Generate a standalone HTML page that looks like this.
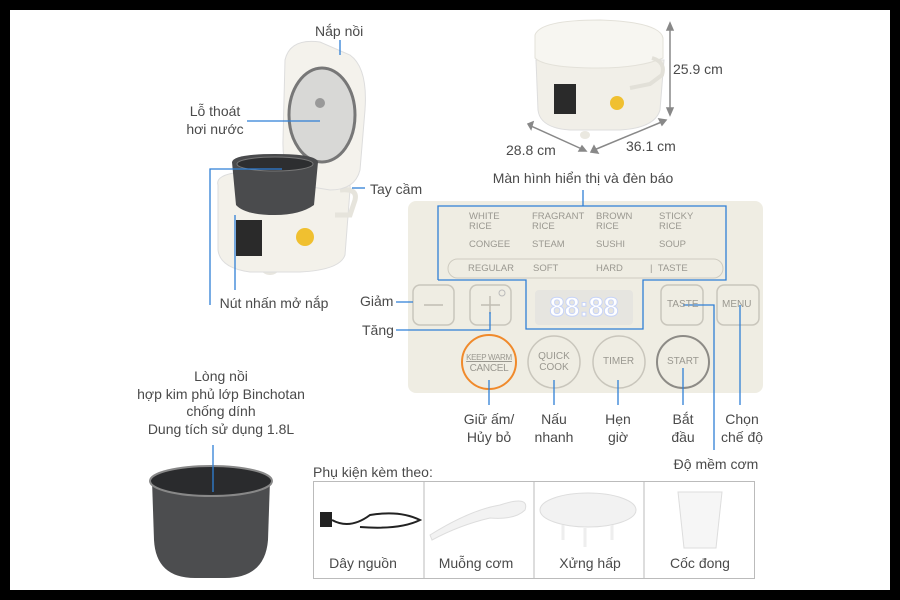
<!DOCTYPE html>
<html><head><meta charset="utf-8"><style>
body{margin:0;width:900px;height:600px;background:#000;overflow:hidden;font-family:"Liberation Sans",sans-serif}
#w{position:absolute;left:10px;top:10px;width:880px;height:580px;background:#fff}
.t{position:absolute;color:#4a4a4a;font-size:14px;white-space:nowrap;line-height:18px}
.c{text-align:center;transform:translateX(-50%)}
.m{position:absolute;color:#9a9890;font-size:9.5px;line-height:10px;white-space:nowrap}
</style></head><body>
<div id="w"></div>
<svg width="900" height="600" style="position:absolute;left:0;top:0">
<!-- left cooker -->
<ellipse cx="270" cy="270" rx="8" ry="5" fill="#e8e6df"/>
<path d="M218 185 Q215 175 240 172 L330 172 Q352 175 350 190 L345 255 Q340 270 300 272 L250 272 Q220 268 218 250 Z" fill="#f3f1ea" stroke="#ddd"/>
<path d="M340 190 Q358 188 355 200 L350 215 L335 215" fill="none" stroke="#e6e4dc" stroke-width="5"/>
<path d="M285 60 Q290 38 320 42 L350 55 Q368 68 365 110 L360 170 Q355 190 330 190 L300 185 Q282 175 283 140 Z" fill="#f4f2ec" stroke="#ddd"/>
<ellipse cx="322" cy="115" rx="33" ry="47" fill="#d8d8d6" stroke="#777" stroke-width="3"/>
<circle cx="320" cy="103" r="5" fill="#999"/>
<path d="M232 162 Q234 154 275 154 Q316 154 318 162 L314 205 Q300 215 275 215 Q245 215 236 205 Z" fill="#4a4b4d"/>
<ellipse cx="275" cy="164" rx="38" ry="7" fill="#2d2e30" stroke="#777"/>
<rect x="236" y="220" width="26" height="36" fill="#2a2a2a"/>
<ellipse cx="305" cy="237" rx="9" ry="9" fill="#f0c030"/>
<!-- top right cooker -->
<path d="M536 60 L664 60 L660 110 Q655 128 620 130 L570 130 Q540 128 538 110 Z" fill="#f1efe8" stroke="#ddd"/>
<path d="M535 35 Q540 20 600 20 Q660 22 663 38 L663 58 Q640 68 598 68 Q545 68 535 58 Z" fill="#f7f6f1" stroke="#e3e1d9"/>
<path d="M652 58 Q666 62 662 75 L650 84 L630 88" fill="none" stroke="#e2e0d8" stroke-width="4"/>
<rect x="554" y="84" width="22" height="30" fill="#2a2a2a"/>
<ellipse cx="617" cy="103" rx="7" ry="7" fill="#f0c030"/>
<ellipse cx="585" cy="135" rx="5" ry="4" fill="#eae8e0"/>
<g stroke="#888" stroke-width="1.5" fill="#888">
<line x1="670" y1="26" x2="670" y2="112"/><path d="M667 30 L670 23 L673 30Z"/><path d="M667 108 L670 115 L673 108Z"/>
<line x1="531" y1="126" x2="584" y2="150"/><path d="M533 122 L528 124 L531 129Z"/><path d="M579 151 L586 151 L582 146Z"/>
<line x1="594" y1="150" x2="664" y2="121"/><path d="M594 146 L591 152 L598 153Z"/><path d="M659 119 L666 120 L662 125Z"/>
</g>
<!-- pot -->
<path d="M152 480 L270 480 L268 540 Q265 578 225 578 L195 578 Q156 578 154 540 Z" fill="#4c4d4f"/>
<ellipse cx="211" cy="481" rx="61" ry="15" fill="#2a2b2d" stroke="#888" stroke-width="2"/>
<!-- panel -->
<rect x="408" y="201" width="355" height="192" rx="8" fill="#efede3"/>
<rect x="448" y="259" width="275" height="19" rx="9.5" fill="none" stroke="#cfccc1"/>
<g fill="none" stroke="#c9c6bc" stroke-width="1.5">
<rect x="413" y="285" width="41" height="40" rx="7"/><rect x="470" y="285" width="41" height="40" rx="7"/>
<rect x="661" y="285" width="42" height="40" rx="7"/><rect x="717" y="285" width="42" height="40" rx="7"/>
<circle cx="554" cy="362" r="26"/><circle cx="619" cy="362" r="26"/>
</g>
<circle cx="683" cy="362" r="26" fill="none" stroke="#8d8b86" stroke-width="2"/>
<circle cx="489" cy="362" r="27" fill="none" stroke="#f08a2c" stroke-width="2"/>
<line x1="424" y1="305" x2="443" y2="305" stroke="#c0bdb3" stroke-width="1.5"/>
<line x1="481" y1="305" x2="500" y2="305" stroke="#c0bdb3" stroke-width="1.5"/><line x1="490" y1="296" x2="490" y2="314" stroke="#c0bdb3" stroke-width="1.5"/>
<circle cx="502" cy="293" r="3" fill="none" stroke="#bbb"/>
<rect x="535" y="290" width="98" height="35" rx="4" fill="#e6e5e0"/>
<text x="584" y="316" text-anchor="middle" font-family="Liberation Sans" font-size="27" font-weight="bold" fill="#fff" stroke="#c8d4f8" stroke-width="1">88:88</text>
<!-- callout lines -->
<g fill="none" stroke="#2f7fd6" stroke-width="1.3">
<polyline points="438,280 438,206 726,206 726,280 643,280 643,329 526,329 526,280 438,280"/>
<line x1="583" y1="190" x2="583" y2="206"/>
<line x1="396" y1="302" x2="413" y2="302"/>
<polyline points="396,330 490,330 490,312"/>
<line x1="489" y1="380" x2="489" y2="405"/><line x1="554" y1="380" x2="554" y2="405"/>
<line x1="618" y1="380" x2="618" y2="405"/><line x1="683" y1="368" x2="683" y2="405"/>
<polyline points="683,305 714,305 714,450"/><line x1="740" y1="305" x2="740" y2="405"/>
<line x1="340" y1="40" x2="340" y2="55"/><line x1="247" y1="121" x2="320" y2="121"/>
<line x1="352" y1="188" x2="365" y2="188"/><polyline points="210,305 210,169 282,169"/>
<line x1="235" y1="215" x2="235" y2="290"/><line x1="213" y1="445" x2="213" y2="492"/>
</g>
<!-- accessory table -->
<g fill="none" stroke="#bbb"><rect x="313.5" y="481.5" width="441" height="97"/>
<line x1="424" y1="481" x2="424" y2="578"/><line x1="534" y1="481" x2="534" y2="578"/><line x1="644" y1="481" x2="644" y2="578"/></g>
<path d="M320 512 L332 512 L332 527 L320 527Z" fill="#222"/>
<path d="M332 520 Q350 530 370 515 Q400 510 420 520 Q400 530 360 527" fill="none" stroke="#222" stroke-width="2"/>
<path d="M430 535 Q470 510 500 505 Q530 495 525 510 Q515 520 490 518 Q460 525 432 540Z" fill="#f2f2f2" stroke="#ddd"/>
<ellipse cx="588" cy="510" rx="48" ry="17" fill="#f2f2f2" stroke="#ddd"/>
<g stroke="#eee" stroke-width="3"><line x1="563" y1="525" x2="563" y2="540"/><line x1="585" y1="528" x2="585" y2="547"/><line x1="612" y1="525" x2="612" y2="540"/></g>
<path d="M678 492 L722 492 L716 548 L684 548Z" fill="#f6f6f6" stroke="#ddd"/>
</svg>
<div class="t" style="left:315px;top:22px">Nắp nồi</div>
<div class="t c" style="left:215px;top:102px;text-align:center">Lỗ thoát<br>hơi nước</div>
<div class="t" style="left:370px;top:180px">Tay cầm</div>
<div class="t c" style="left:274px;top:294px">Nút nhấn mở nắp</div>
<div class="t c" style="left:221px;top:368px;text-align:center;line-height:17.5px">Lòng nồi<br>hợp kim phủ lớp Binchotan<br>chống dính<br>Dung tích sử dụng 1.8L</div>
<div class="t" style="left:673px;top:60px">25.9 cm</div>
<div class="t" style="left:506px;top:141px">28.8 cm</div>
<div class="t" style="left:626px;top:137px">36.1 cm</div>
<div class="t c" style="left:583px;top:169px">Màn hình hiển thị và đèn báo</div>
<div class="t" style="left:360px;top:292px">Giảm</div>
<div class="t" style="left:362px;top:321px">Tăng</div>
<div class="t c" style="left:489px;top:410px;text-align:center">Giữ ấm/<br>Hủy bỏ</div>
<div class="t c" style="left:554px;top:410px;text-align:center">Nấu<br>nhanh</div>
<div class="t c" style="left:618px;top:410px;text-align:center">Hẹn<br>giờ</div>
<div class="t c" style="left:683px;top:410px;text-align:center">Bắt<br>đầu</div>
<div class="t c" style="left:742px;top:410px;text-align:center">Chọn<br>chế độ</div>
<div class="t c" style="left:716px;top:455px">Độ mềm cơm</div>
<div class="t" style="left:313px;top:463px">Phụ kiện kèm theo:</div>
<div class="t c" style="left:363px;top:554px">Dây nguồn</div>
<div class="t c" style="left:476px;top:554px">Muỗng cơm</div>
<div class="t c" style="left:590px;top:554px">Xửng hấp</div>
<div class="t c" style="left:700px;top:554px">Cốc đong</div>
<div class="m" style="left:469px;top:212px">WHITE<br>RICE</div>
<div class="m" style="left:532px;top:212px">FRAGRANT<br>RICE</div>
<div class="m" style="left:596px;top:212px">BROWN<br>RICE</div>
<div class="m" style="left:659px;top:212px">STICKY<br>RICE</div>
<div class="m" style="left:469px;top:240px">CONGEE</div>
<div class="m" style="left:532px;top:240px">STEAM</div>
<div class="m" style="left:596px;top:240px">SUSHI</div>
<div class="m" style="left:659px;top:240px">SOUP</div>
<div class="m" style="left:468px;top:264px">REGULAR</div>
<div class="m" style="left:533px;top:264px">SOFT</div>
<div class="m" style="left:596px;top:264px">HARD</div>
<div class="m" style="left:650px;top:264px">| &nbsp;TASTE</div>
<div class="m" style="left:667px;top:300px;font-size:10px">TASTE</div>
<div class="m" style="left:722px;top:300px;font-size:10px">MENU</div>
<div class="m" style="left:465px;top:352px;font-size:8px;text-align:center;width:48px;line-height:11px;letter-spacing:-0.3px"><u>KEEP WARM</u><br><span style="font-size:10px">CANCEL</span></div>
<div class="m" style="left:536px;top:351px;font-size:10px;text-align:center;width:36px;line-height:11px">QUICK<br>COOK</div>
<div class="m" style="left:603px;top:357px;font-size:10px">TIMER</div>
<div class="m" style="left:667px;top:357px;font-size:10px">START</div>
</body></html>
